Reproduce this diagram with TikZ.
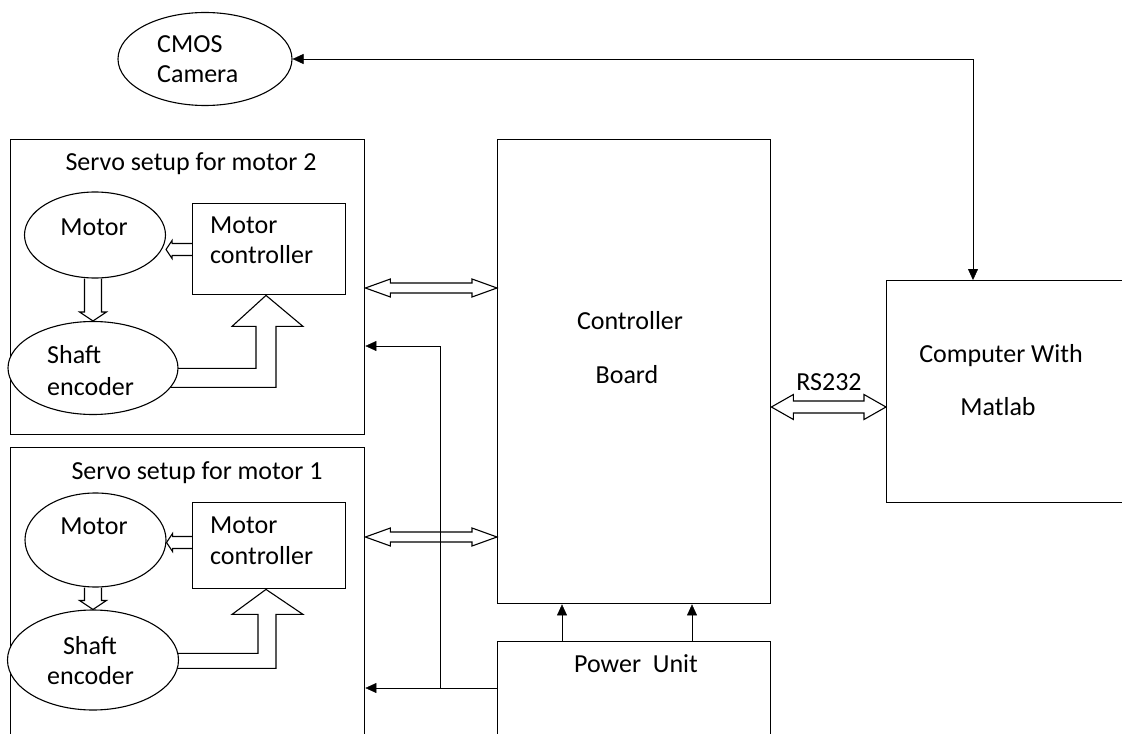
\documentclass[tikz,border=0pt]{standalone}
\usepackage{fontspec}
\setmainfont{Carlito}
\usetikzlibrary{arrows.meta,calc,backgrounds,shapes.geometric}
% horizontal hollow double arrow: #1 left end, #2 right end, #3 shaft half, #4 head half, #5 head length
\newcommand\hdouble[5]{%
  \path[hol] let \p1=(#1), \p2=(#2) in
    (\x1,\y1) -- ({\x1+#5},{\y1+#4}) -- ({\x1+#5},{\y1+#3}) -- ({\x2-#5},{\y1+#3})
    -- ({\x2-#5},{\y1+#4}) -- (\x2,\y1) -- ({\x2-#5},{\y1-#4}) -- ({\x2-#5},{\y1-#3})
    -- ({\x1+#5},{\y1-#3}) -- ({\x1+#5},{\y1-#4}) -- cycle;}
% leftward hollow arrow: #1 tail, #2 tip
\newcommand\hleft[5]{%
  \path[hol] let \p1=(#1), \p2=(#2) in
    (\x1,{\y1+#3}) -- ({\x2+#5},{\y1+#3}) -- ({\x2+#5},{\y1+#4}) -- (\x2,\y1)
    -- ({\x2+#5},{\y1-#4}) -- ({\x2+#5},{\y1-#3}) -- (\x1,{\y1-#3});}
% downward hollow arrow: #1 tail, #2 tip
\newcommand\vdown[5]{%
  \path[hol] let \p1=(#1), \p2=(#2) in
    ({\x2-#3},\y1) -- ({\x2-#3},{\y2+#5}) -- ({\x2-#4},{\y2+#5}) -- (\x2,\y2)
    -- ({\x2+#4},{\y2+#5}) -- ({\x2+#3},{\y2+#5}) -- ({\x2+#3},\y1);}
\begin{document}
\begin{tikzpicture}[x=1bp,y=-1bp,
  line width=1.4bp,
  every node/.style={font=\fontsize{26bp}{30bp}\selectfont, inner sep=0pt},
  box/.style={draw, rectangle, anchor=north west},
  oval/.style={draw, ellipse, fill=white, line width=1.1bp},
  lbl/.style={anchor=mid},
  lblw/.style={anchor=mid west},
  tri/.style={-{Triangle[length=11bp,width=10bp]}},
  bitri/.style={{Triangle[length=11bp,width=10bp]}-{Triangle[length=11bp,width=10bp]}},
  hol/.style={draw, fill=white, line width=1.1bp, line join=miter},
]
\clip (0,0) rectangle (1122,734);

% main blocks
\node[box, minimum width=354bp, minimum height=295bp] (servo2) at (10,139) {};
\node[box, minimum width=354bp, minimum height=320bp] (servo1) at (10,447) {};
\node[box, minimum width=273bp, minimum height=464bp] (board) at (497,139) {};
\node[box, minimum width=273bp, minimum height=130bp] (power) at (497,641) {};
\node[box, minimum width=260bp, minimum height=222bp] (comp) at (886,280) {};
\node[oval, minimum width=174bp, minimum height=93bp] (camera) at (205,59) {};

% servo 2 contents
\node[box, fill=white, minimum width=153bp, minimum height=91bp] (mc2) at (192,203) {};
\node[oval, minimum width=141bp, minimum height=86bp] (motor2) at (95,235) {};
\node[oval, minimum width=170bp, minimum height=93bp] (enc2) at (93,368) {};

% servo 1 contents
\node[box, fill=white, minimum width=153bp, minimum height=86bp] (mc1) at (192,502) {};
\node[oval, minimum width=141bp, minimum height=94bp] (motor1) at (95.5,540) {};
\node[oval, minimum width=171bp, minimum height=100bp] (enc1) at (93,660) {};

% hollow arrows (behind shapes)
\begin{pgfonlayer}{background}
  \fill[white] (0,0) rectangle (1122,734);
  \hdouble{servo2.east |- 0,288}{board.west |- 0,288}{5bp}{9bp}{25bp}
  \hdouble{servo1.east |- 0,537}{board.west |- 0,537}{5bp}{9bp}{25bp}
  \hdouble{board.east |- 0,407}{comp.west |- 0,407}{6bp}{12.5bp}{22bp}
  \hleft{mc2.west |- 0,249.5}{motor2.east |- 0,249.5}{6bp}{9bp}{6bp}
  \hleft{mc1.west |- 0,542.5}{motor1.east |- 0,542.5}{6bp}{9bp}{6bp}
  \vdown{enc2.north |- motor2.south}{enc2.north}{8.5bp}{13.5bp}{9bp}
  \vdown{enc1.north |- motor1.south}{enc1.north}{8.5bp}{13.5bp}{9bp}
  \begin{scope}[shift={(mc2.south -| 266,0)}]
    \path[hol] (-110,73) -- (-10,73) -- (-10,31) -- (-34,31) -- (0,0) -- (37,31)
      -- (10,31) -- (10,92) -- (-110,92);
  \end{scope}
  \begin{scope}[shift={(mc1.south -| 266,0)}]
    \path[hol] (-110,64) -- (-8,64) -- (-8,25) -- (-34,25) -- (0,0) -- (37,25)
      -- (10,25) -- (10,79) -- (-110,79);
  \end{scope}
\end{pgfonlayer}

% line connectors
\draw[bitri] (camera.east) -| ($(comp.north west)+(87,0)$);
\coordinate (pj) at (440,688);
\draw[tri] (power.west |- pj) -- (servo1.east |- pj);
\draw[tri] (pj) |- (servo2.east |- 0,346);
\draw[tri] (power.north -| 562,0) -- (board.south -| 562,0);
\draw[tri] (power.north -| 692,0) -- (board.south -| 692,0);

% texts
\node[lblw] at (157,50) {CMOS};
\node[lblw] at (157,80) {Camera};
\node[lbl] at (191,168) {Servo setup for motor 2};
\node[lbl] at (94,233) {Motor};
\node[lblw] at (210,231) {Motor};
\node[lblw] at (210,261) {controller};
\node[lblw] at (47,361) {Shaft};
\node[lblw] at (47,393) {encoder};
\node[lbl] at (197,477) {Servo setup for motor 1};
\node[lbl] at (94,532) {Motor};
\node[lblw] at (210,531) {Motor};
\node[lblw] at (210,562) {controller};
\node[lbl] at (90,652) {Shaft};
\node[lblw] at (47,682) {encoder};
\node[lbl] at (630,327) {Controller};
\node[lbl] at (627,381) {Board};
\node[lbl] at (636,670) {Power\ \ Unit};
\node[lbl] at (829,388) {RS232};
\node[lbl] at (1001,360) {Computer With};
\node[lbl] at (998,413) {Matlab};
\end{tikzpicture}
\end{document}
